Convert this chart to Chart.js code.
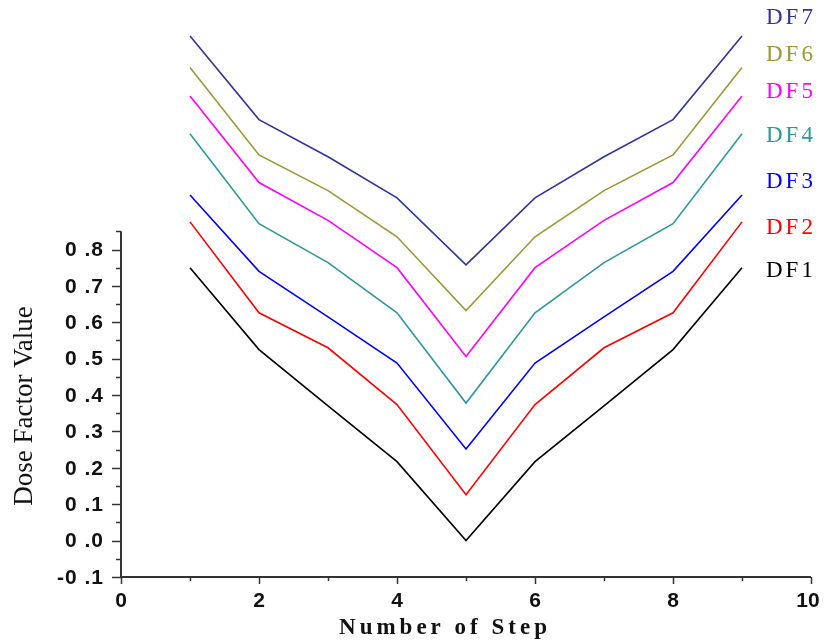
<!DOCTYPE html>
<html>
<head>
<meta charset="utf-8">
<script src="https://cdn.jsdelivr.net/npm/chart.js@4.4.1/dist/chart.umd.min.js"></script>
<style>
  html, body { margin: 0; padding: 0; background: #fff; }
  #wrap { width: 825px; height: 641px; }
</style>
</head>
<body>
<div id="wrap"><canvas id="chart" width="825" height="641"></canvas></div>
<script>
const steps = [1, 2, 3, 4, 5, 6, 7, 8, 9];
const df1 = [0.75, 0.525, 0.37, 0.217, 0.0, 0.217, 0.37, 0.525, 0.75];
const df2 = [0.876, 0.626, 0.53, 0.374, 0.126, 0.374, 0.53, 0.626, 0.876];
const df3 = [0.95, 0.74, 0.615, 0.488, 0.252, 0.488, 0.615, 0.74, 0.95];
const df4 = [1.118, 0.871, 0.764, 0.626, 0.378, 0.626, 0.764, 0.871, 1.118];
const df5 = [1.222, 0.984, 0.88, 0.75, 0.506, 0.75, 0.88, 0.984, 1.222];
const df6 = [1.30, 1.06, 0.962, 0.835, 0.632, 0.835, 0.962, 1.06, 1.30];
const df7 = [1.387, 1.157, 1.055, 0.942, 0.758, 0.942, 1.055, 1.157, 1.387];

const seriesNames = ['DF1', 'DF2', 'DF3', 'DF4', 'DF5', 'DF6', 'DF7'];
const seriesValues = [df1, df2, df3, df4, df5, df6, df7];
const seriesColors = ['#000000', '#ff0000', '#0000ff', '#2b9999', '#ff00ff', '#999933', '#333399'];

const xTicks = [0, 2, 4, 6, 8, 10];
const yTicks = [-0.1, 0.0, 0.1, 0.2, 0.3, 0.4, 0.5, 0.6, 0.7, 0.8];
const yAxisTop = 0.85;

// where each series name sits, in y units
const nameLevels = [0.74, 0.86, 0.985, 1.112, 1.234, 1.335, 1.436];

const datasets = seriesValues.map((vals, i) => ({
    label: seriesNames[i],
    data: vals.map((v, j) => ({ x: steps[j], y: v })),
    borderColor: seriesColors[i],
    borderWidth: 1.6,
    pointRadius: 0,
    tension: 0,
    fill: false
}));

const axesPlugin = {
    id: 'axesPlugin',
    afterDraw(chart) {
        const ctx = chart.ctx;
        const xs = chart.scales.x;
        const ys = chart.scales.y;
        const x0 = xs.getPixelForValue(0);
        const x10 = xs.getPixelForValue(10);
        const yBase = ys.getPixelForValue(-0.1);
        const yTop = ys.getPixelForValue(yAxisTop);

        ctx.save();
        ctx.strokeStyle = '#333';
        ctx.lineWidth = 2;
        ctx.beginPath();
        ctx.moveTo(x0, yTop);
        ctx.lineTo(x0, yBase);
        ctx.lineTo(x10, yBase);
        ctx.stroke();

        // y ticks (major + minor)
        ctx.lineWidth = 1.5;
        for (let k = 0; k <= 19; k++) {
            const v = -0.1 + k * 0.05;
            const py = Math.round(ys.getPixelForValue(v)) + 0.5;
            const len = k % 2 === 0 ? 9 : 5;
            ctx.beginPath();
            ctx.moveTo(x0 - len, py);
            ctx.lineTo(x0, py);
            ctx.stroke();
        }
        // x ticks (major + minor)
        for (let v = 0; v <= 10; v++) {
            const px = Math.round(xs.getPixelForValue(v)) + 0.5;
            const len = v % 2 === 0 ? 7 : 4;
            ctx.beginPath();
            ctx.moveTo(px, yBase);
            ctx.lineTo(px, yBase + len);
            ctx.stroke();
        }

        // y tick labels
        ctx.fillStyle = '#111';
        ctx.font = 'bold 21px "Liberation Sans", Arial, sans-serif';
        ctx.textAlign = 'right';
        ctx.textBaseline = 'middle';
        ctx.letterSpacing = '1px';
        yTicks.forEach(v => {
            const s = v.toFixed(1).replace('.', ' .');
            ctx.fillText(s, x0 - 17, ys.getPixelForValue(v) + 1);
        });
        ctx.letterSpacing = '0px';

        // x tick labels
        ctx.font = 'bold 21px "Liberation Sans", Arial, sans-serif';
        ctx.textAlign = 'center';
        ctx.textBaseline = 'middle';
        xTicks.forEach(v => {
            let px = xs.getPixelForValue(v);
            if (v === 10) px -= 3;
            ctx.fillText(String(v), px, yBase + 24);
        });

        // axis titles
        ctx.font = 'bold 23px "Liberation Serif", "Times New Roman", serif';
        ctx.letterSpacing = '4px';
        ctx.fillText('Number of Step', 445, yBase + 51);
        ctx.letterSpacing = '0px';

        ctx.save();
        ctx.translate(25, 406);
        ctx.rotate(-Math.PI / 2);
        ctx.font = '27px "Liberation Serif", "Times New Roman", serif';
        ctx.fillText('Dose Factor Value', 0, 0);
        ctx.restore();

        // series names
        ctx.font = '23px "Liberation Serif", "Times New Roman", serif';
        ctx.letterSpacing = '3px';
        ctx.textAlign = 'left';
        seriesNames.forEach((name, i) => {
            ctx.fillStyle = seriesColors[i];
            ctx.fillText(name, 766, ys.getPixelForValue(nameLevels[i]));
        });
        ctx.letterSpacing = '0px';
        ctx.restore();
    }
};

new Chart(document.getElementById('chart'), {
    type: 'line',
    data: { datasets: datasets },
    options: {
        responsive: false,
        animation: false,
        layout: { padding: { left: 121, right: 14, top: 13, bottom: 64 } },
        plugins: { legend: { display: false }, tooltip: { enabled: false } },
        scales: {
            x: { type: 'linear', min: 0, max: 10, display: false },
            y: { type: 'linear', min: -0.1, max: 1.45, display: false }
        }
    },
    plugins: [axesPlugin]
});
</script>
</body>
</html>
